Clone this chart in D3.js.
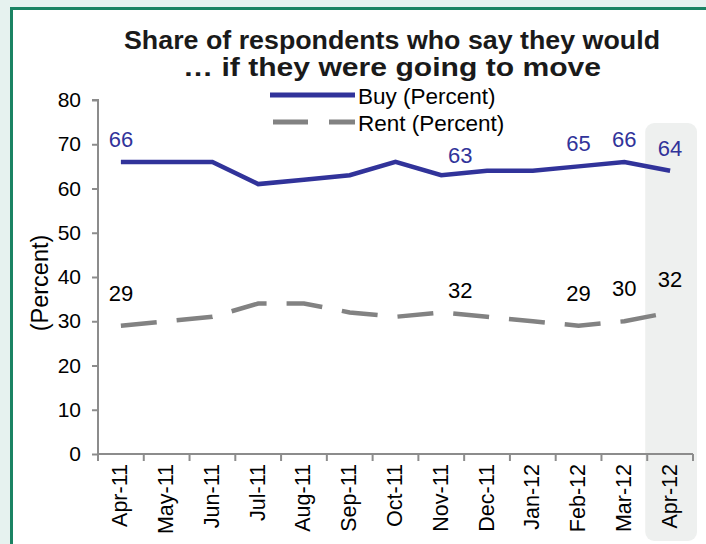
<!DOCTYPE html>
<html>
<head>
<meta charset="utf-8">
<script src="https://cdn.jsdelivr.net/npm/d3@7"></script>
<style>
  html, body { margin: 0; padding: 0; background: #e6f2ef; }
  svg { display: block; font-family: "Liberation Sans", Arial, sans-serif; }
</style>
</head>
<body>
<div id="chart"></div>
<script>
// ── Data ────────────────────────────────────────────────────────────────────
const months = ['Apr-11', 'May-11', 'Jun-11', 'Jul-11', 'Aug-11', 'Sep-11', 'Oct-11',
                'Nov-11', 'Dec-11', 'Jan-12', 'Feb-12', 'Mar-12', 'Apr-12'];
const buy  = [66, 66, 66, 61, 62, 63, 66, 63, 64, 64, 65, 66, 64];
const rent = [29, 30, 31, 34, 34, 32, 31, 32, 31, 30, 29, 30, 32];
const labelled = [0, 7, 10, 11, 12];          // months that carry value labels
const yTicks = [0, 10, 20, 30, 40, 50, 60, 70, 80];

const BLUE = '#31339a';
const GREY = '#828282';
const AXIS = '#8c8c8c';

const W = 706, H = 544;
const m = { top: 100, right: 13, bottom: 90, left: 98 };
const w = W - m.left - m.right;
const h = H - m.top - m.bottom;

const svg = d3.select('#chart').append('svg').attr('width', W).attr('height', H);

// panel
svg.append('rect').attr('width', W).attr('height', H).attr('fill', '#e6f2ef');
svg.append('rect').attr('x', 11.5).attr('y', 8.5).attr('width', W + 20).attr('height', H + 20)
  .attr('fill', '#fff').attr('stroke', '#1b8363').attr('stroke-width', 3);

const g = svg.append('g').attr('transform', `translate(${m.left},${m.top})`);

const x = d3.scaleBand().domain(months).range([0, w]);
const y = d3.scaleLinear().domain([0, 80]).range([h, 0]);
const cx = i => x(months[i]) + x.bandwidth() / 2;

// highlighted last month
g.append('rect')
  .attr('x', x('Apr-12') - 2).attr('y', y(80) + 23)
  .attr('width', x.bandwidth() + 6).attr('height', H - m.top - 26)
  .attr('rx', 9).attr('fill', '#eef0ef');

// ── Axes ────────────────────────────────────────────────────────────────────
const yAx = g.append('g')
  .call(d3.axisLeft(y).tickValues(yTicks).tickSize(6).tickPadding(11))
  .attr('font-size', 21).attr('font-family', null);
yAx.select('.domain').attr('stroke', AXIS).attr('stroke-width', 2).attr('d', `M0,${h}V0H-6`);
yAx.selectAll('.tick line').attr('stroke', AXIS).attr('stroke-width', 2);
yAx.selectAll('.tick text').attr('fill', '#000');

const xAx = g.append('g').attr('transform', `translate(0,${h})`);
xAx.append('line').attr('x1', 0).attr('x2', w).attr('stroke', AXIS).attr('stroke-width', 2);
xAx.selectAll('line.tk').data(d3.range(months.length + 1)).join('line')
  .attr('class', 'tk')
  .attr('x1', i => i * x.step()).attr('x2', i => i * x.step())
  .attr('y1', 0).attr('y2', 7).attr('stroke', AXIS).attr('stroke-width', 2);
xAx.selectAll('text').data(months).join('text')
  .attr('transform', (d, i) => `translate(${cx(i) - 1},10) rotate(-90)`)
  .attr('text-anchor', 'end').attr('dy', '0.35em')
  .attr('font-size', 21.5).attr('fill', '#000')
  .text(d => d);

svg.append('text')
  .attr('transform', `translate(40,283) rotate(-90)`)
  .attr('text-anchor', 'middle').attr('dy', '0.35em')
  .attr('font-size', 23.5).attr('fill', '#000')
  .text('(Percent)');

// ── Lines ───────────────────────────────────────────────────────────────────
const line = d3.line().x((d, i) => cx(i)).y(d => y(d));

g.append('path').datum(rent).attr('d', line)
  .attr('fill', 'none').attr('stroke', GREY).attr('stroke-width', 4.5)
  .attr('stroke-dasharray', '36,20');

g.append('path').datum(buy).attr('d', line)
  .attr('fill', 'none').attr('stroke', BLUE).attr('stroke-width', 4.5)
  .attr('stroke-linejoin', 'miter');

// value labels (Nov-11 sits right of its point)
const nudge = i => (i === 7 ? 19 : 0);
g.selectAll('text.buy').data(labelled).join('text')
  .attr('class', 'buy')
  .attr('x', i => cx(i) + nudge(i))
  .attr('y', i => y(buy[i]) - (i === 7 ? 12 : 15))
  .attr('text-anchor', 'middle').attr('font-size', 22).attr('fill', BLUE)
  .text(i => buy[i]);

g.selectAll('text.rent').data(labelled).join('text')
  .attr('class', 'rent')
  .attr('x', i => cx(i) + nudge(i))
  .attr('y', i => y(rent[i]) - (i === 7 ? 14 : 25))
  .attr('text-anchor', 'middle').attr('font-size', 22).attr('fill', '#000')
  .text(i => rent[i]);

// ── Title & legend ──────────────────────────────────────────────────────────
const titleLines = [
  { text: 'Share of respondents who say they would', y: 49, len: 536 },
  { text: '… if they were going to move', y: 76, len: 418 }
];
titleLines.forEach(t => {
  svg.append('text').attr('x', 392).attr('y', t.y)
    .attr('text-anchor', 'middle').attr('font-size', 26).attr('font-weight', 'bold')
    .attr('textLength', t.len).attr('lengthAdjust', 'spacingAndGlyphs')
    .attr('fill', '#1a1a1a').text(t.text);
});

const series = [
  { name: 'Buy (Percent)', color: BLUE, dash: null, x1: 270 },
  { name: 'Rent (Percent)', color: GREY, dash: '35,21', x1: 273 }
];
const leg = svg.append('g');
series.forEach((s, k) => {
  const ly = 95 + k * 27;
  leg.append('line').attr('x1', s.x1).attr('x2', 355).attr('y1', ly).attr('y2', ly)
    .attr('stroke', s.color).attr('stroke-width', 5)
    .attr('stroke-dasharray', s.dash);
  leg.append('text').attr('x', 358).attr('y', ly + 1).attr('dy', '0.35em')
    .attr('font-size', 22.5).attr('fill', '#000').text(s.name);
});
</script>
</body>
</html>
